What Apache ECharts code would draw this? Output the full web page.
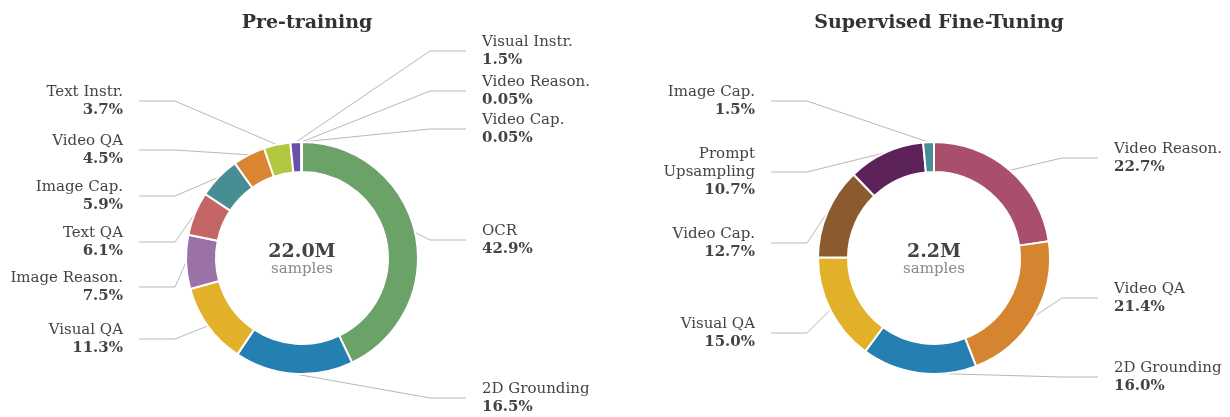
<!DOCTYPE html>
<html>
<head>
<meta charset="utf-8">
<script src="https://cdn.jsdelivr.net/npm/echarts@6/dist/echarts.min.js"></script>
<style>
	html, body { margin: 0; padding: 0; background: #fff; }
	#main { width: 1230px; height: 417px; }
</style>
</head>
<body>
<div id="main"></div>
<script>

	/*
	 * 数据
	 */
	var preNames = ["OCR", "2D Grounding", "Visual QA", "Image Reason.", "Text QA", "Image Cap.", "Video QA", "Text Instr.", "Visual Instr.", "Video Reason.", "Video Cap."];
	var preValues = [42.9, 16.5, 11.3, 7.5, 6.1, 5.9, 4.5, 3.7, 1.5, 0.05, 0.05];
	var preColors = ["#6aa267", "#2580b1", "#e3b02a", "#9b72a7", "#c46666", "#468e91", "#d98531", "#b3c63f", "#6b4faf", "#8e7cc3", "#7fb2d6"];
	var preTotal = "22.0M";

	var sftNames = ["Video Reason.", "Video QA", "2D Grounding", "Visual QA", "Video Cap.", "Prompt\nUpsampling", "Image Cap."];
	var sftValues = [22.7, 21.4, 16.0, 15.0, 12.7, 10.7, 1.5];
	var sftColors = ["#aa4f6b", "#d58430", "#2580b1", "#e3b02a", "#8b5b2f", "#5c2259", "#468e91"];
	var sftTotal = "2.2M";

	/*
	 * 标签排布（非数据）
	 */
	var preLabelSide = ["R", "R", "L", "L", "L", "L", "L", "L", "R", "R", "R"];
	var preLabelY = [240, 398, 339, 287, 242, 196, 150, 101, 51, 91, 129];
	var sftLabelSide = ["R", "R", "R", "L", "L", "L", "L"];
	var sftLabelY = [158, 298, 377, 333, 243, 172, 101];

	var FONT = "'DejaVu Serif', serif";
	var R0 = 86, R1 = 116;
	var preCenter = [302, 258], sftCenter = [934, 258];

	function fmt(v) {
		return v < 0.1 ? v.toFixed(2) : v.toFixed(1);
	}

	function buildData(names, values, colors) {
		var arr = [];
		names.forEach(function(n, i) {
			arr.push({ name: n, value: values[i], itemStyle: { color: colors[i] } });
		});
		return arr;
	}

	function layoutFn(center, sides, ys) {
		return function(params) {
			var i = params.dataIndex;
			var left = sides[i] === "L";
			var start = params.labelLinePoints ? params.labelLinePoints[0] : [center[0], center[1] - R1];
			var elbowX = left ? center[0] - R1 - 11 : center[0] + R1 + 12;
			var endX = left ? center[0] - R1 - 47 : center[0] + R1 + 48;
			return {
				x: left ? endX - 16 : endX + 16,
				y: ys[i],
				align: left ? "right" : "left",
				verticalAlign: "middle",
				labelLinePoints: [start, [elbowX, ys[i]], [endX, ys[i]]]
			};
		};
	}

	function pieSeries(center, data, sides, ys) {
		return {
			type: "pie",
			center: center,
			radius: [R0, R1],
			startAngle: 90,
			clockwise: true,
			avoidLabelOverlap: false,
			animation: false,
			itemStyle: { borderColor: "#fff", borderWidth: 2 },
			label: {
				show: true,
				position: "outside",
				fontFamily: FONT,
				formatter: function(p) {
					return "{n|" + p.name + "}\n{v|" + fmt(p.value) + "%}";
				},
				rich: {
					n: { fontFamily: FONT, fontSize: 15, color: "#444", lineHeight: 18 },
					v: { fontFamily: FONT, fontSize: 15, fontWeight: "bold", color: "#444", lineHeight: 18 }
				}
			},
			labelLine: {
				show: true,
				length: 10,
				length2: 10,
				lineStyle: { color: "#b8b8b8", width: 1 }
			},
			labelLayout: layoutFn(center, sides, ys),
			emphasis: { disabled: true },
			data: data
		};
	}

	function centerText(center, total) {
		return [{
			type: "text",
			x: center[0],
			y: center[1] - 6,
			style: { text: total, align: "center", verticalAlign: "middle", font: "bold 19px " + FONT, fill: "#444" }
		}, {
			type: "text",
			x: center[0],
			y: center[1] + 11,
			style: { text: "samples", align: "center", verticalAlign: "middle", font: "15px " + FONT, fill: "#888" }
		}];
	}

	var chart = echarts.init(document.getElementById("main"), null, { renderer: "canvas" });

	chart.setOption({
		backgroundColor: "#fff",
		title: [{
			text: "Pre-training",
			left: preCenter[0],
			top: 9,
			textAlign: "center",
			textStyle: { fontFamily: FONT, fontSize: 19, fontWeight: "bold", color: "#333" }
		}, {
			text: "Supervised Fine-Tuning",
			left: sftCenter[0],
			top: 9,
			textAlign: "center",
			textStyle: { fontFamily: FONT, fontSize: 19, fontWeight: "bold", color: "#333" }
		}],
		graphic: centerText(preCenter, preTotal).concat(centerText(sftCenter, sftTotal)),
		series: [
			pieSeries(preCenter, buildData(preNames, preValues, preColors), preLabelSide, preLabelY),
			pieSeries(sftCenter, buildData(sftNames, sftValues, sftColors), sftLabelSide, sftLabelY)
		]
	});

</script>
</body>
</html>
